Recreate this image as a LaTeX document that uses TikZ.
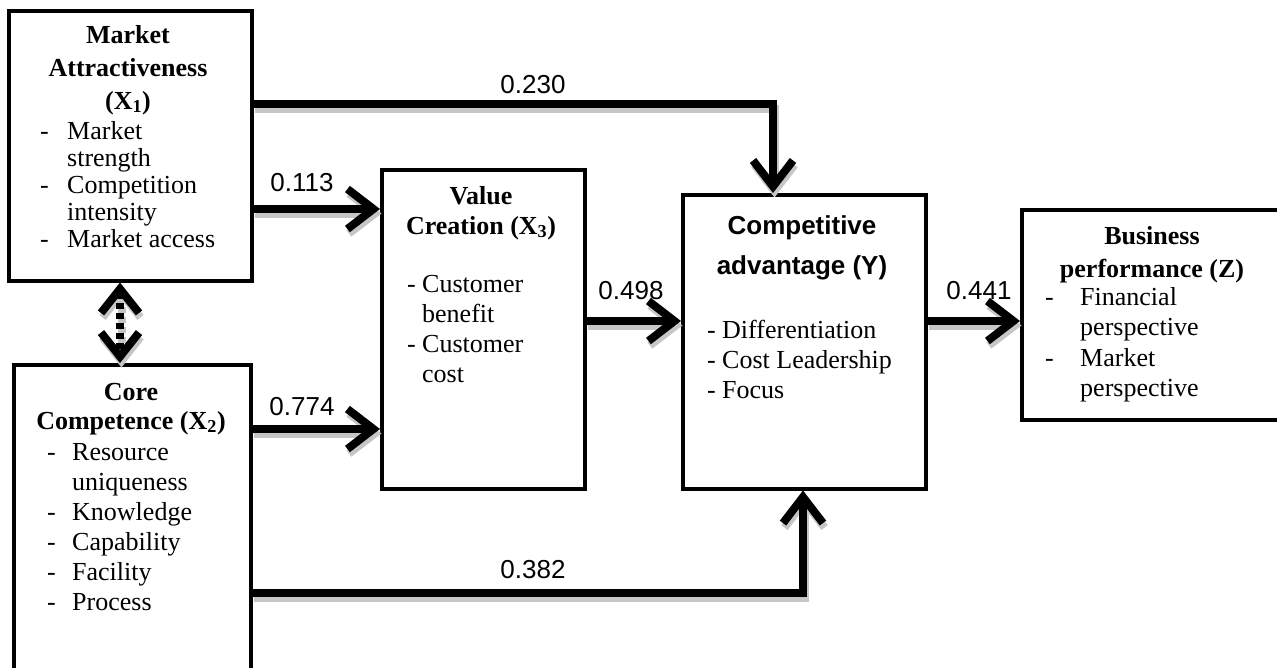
\documentclass[tikz,border=0pt]{standalone}
\usepackage{fontspec}
\setmainfont{Liberation Serif}
\newfontfamily\arialfont{Liberation Sans}
\usetikzlibrary{arrows.meta}
\newcommand\shadowconn[2]{%
  \begin{scope}[transform canvas={shift={(1.5pt,-4.5pt)}}]
    \draw[#1, draw=gray!45] #2;
  \end{scope}
  \draw[#1] #2;}
\begin{document}
\begin{tikzpicture}[x=1pt,y=-1pt,
  box/.style={draw, line width=3.5pt, rectangle, anchor=north west, inner sep=0},
  ttl/.style={font=\bfseries\fontsize{26}{#1}\selectfont, anchor=base, inner sep=0},
  lst/.style={font=\fontsize{26}{#1}\selectfont, anchor=base west, inner sep=0},
  lbl/.style={font=\arialfont\fontsize{26}{30}\selectfont, inner sep=0},
  arr/.style={line width=8pt, -{Straight Barb[length=26pt,width=40pt]}},
  darr/.style={line width=8pt, dash pattern=on 6pt off 4pt,
    {Straight Barb[length=24pt,width=38pt]}-{Straight Barb[length=24pt,width=38pt]}}
]
\useasboundingbox (0,0) rectangle (1277,667);
\clip (0,0) rectangle (1277,667);

% boxes
\node[box, minimum width=243pt, minimum height=270pt] (x1) at (7,9) {};
\node[box, minimum width=237pt, minimum height=340pt] (x2) at (12,363) {};
\node[box, minimum width=203pt, minimum height=319pt] (x3) at (380,168) {};
\node[box, minimum width=243pt, minimum height=294pt] (y) at (681,193) {};
\node[box, minimum width=290pt, minimum height=210pt] (z) at (1020,208) {};

% texts X1
\node[ttl=33] (x1t) at (128,43) {\begin{tabular}[t]{@{}c@{}}Market\\Attractiveness\\(X\textsubscript{1})\end{tabular}};
\node[lst=27] (x1l) at (40,139) {\begin{tabular}[t]{@{}p{27pt}@{}l@{}}-&Market\\&strength\\-&Competition\\&intensity\\-&Market access\end{tabular}};

% texts X2
\node[ttl=29] (x2t) at (131,400) {\begin{tabular}[t]{@{}c@{}}Core\\Competence (X\textsubscript{2})\end{tabular}};
\node[lst=30] (x2l) at (47,460) {\begin{tabular}[t]{@{}p{25pt}@{}l@{}}-&Resource\\&uniqueness\\-&Knowledge\\-&Capability\\-&Facility\\-&Process\end{tabular}};

% texts X3
\node[ttl=30] (x3t) at (481,204) {\begin{tabular}[t]{@{}c@{}}Value\\Creation (X\textsubscript{3})\end{tabular}};
\node[lst=30] (x3l) at (407,292) {\begin{tabular}[t]{@{}p{15pt}@{}l@{}}-&Customer\\&benefit\\-&Customer\\&cost\end{tabular}};

% texts Y
\node[ttl=40, font=\arialfont\bfseries\fontsize{26}{40}\selectfont] (yt) at (802,234) {\begin{tabular}[t]{@{}c@{}}Competitive\\advantage (Y)\end{tabular}};
\node[lst=30] (yl) at (707,338) {\begin{tabular}[t]{@{}p{15pt}@{}l@{}}-&Differentiation\\-&Cost Leadership\\-&Focus\end{tabular}};

% texts Z
\node[ttl=33] (zt) at (1152,244) {\begin{tabular}[t]{@{}c@{}}Business\\performance (Z)\end{tabular}};
\node[lst=30.5] (zl) at (1045,305) {\begin{tabular}[t]{@{}p{35pt}@{}l@{}}-&Financial\\&perspective\\-&Market\\&perspective\end{tabular}};

% bend / level coordinates
\coordinate (h230) at (773,104);
\coordinate (h113) at (0,209);
\coordinate (h774) at (0,429);
\coordinate (h498) at (0,321);
\coordinate (h382) at (803,593);
\coordinate (dd) at (120,0);

% connectors
\shadowconn{arr}{(x1.east |- h230) -- (h230) -- (h230 |- y.north)}
\shadowconn{arr}{(x1.east |- h113) -- (x3.west |- h113)}
\shadowconn{arr}{(x2.east |- h774) -- (x3.west |- h774)}
\shadowconn{arr}{(x3.east |- h498) -- (y.west |- h498)}
\shadowconn{arr}{(y.east |- h498) -- (z.west |- h498)}
\shadowconn{arr}{(x2.east |- h382) -- (h382) -- (h382 |- y.south)}
\shadowconn{darr}{(dd |- x1.south) -- (dd |- x2.north)}

% labels
\node[lbl] (l230) at (533,85) {0.230};
\node[lbl] (l113) at (302,183) {0.113};
\node[lbl] (l774) at (302,407) {0.774};
\node[lbl] (l498) at (631,291) {0.498};
\node[lbl] (l441) at (979,291) {0.441};
\node[lbl] (l382) at (533,570) {0.382};
\end{tikzpicture}
\end{document}
